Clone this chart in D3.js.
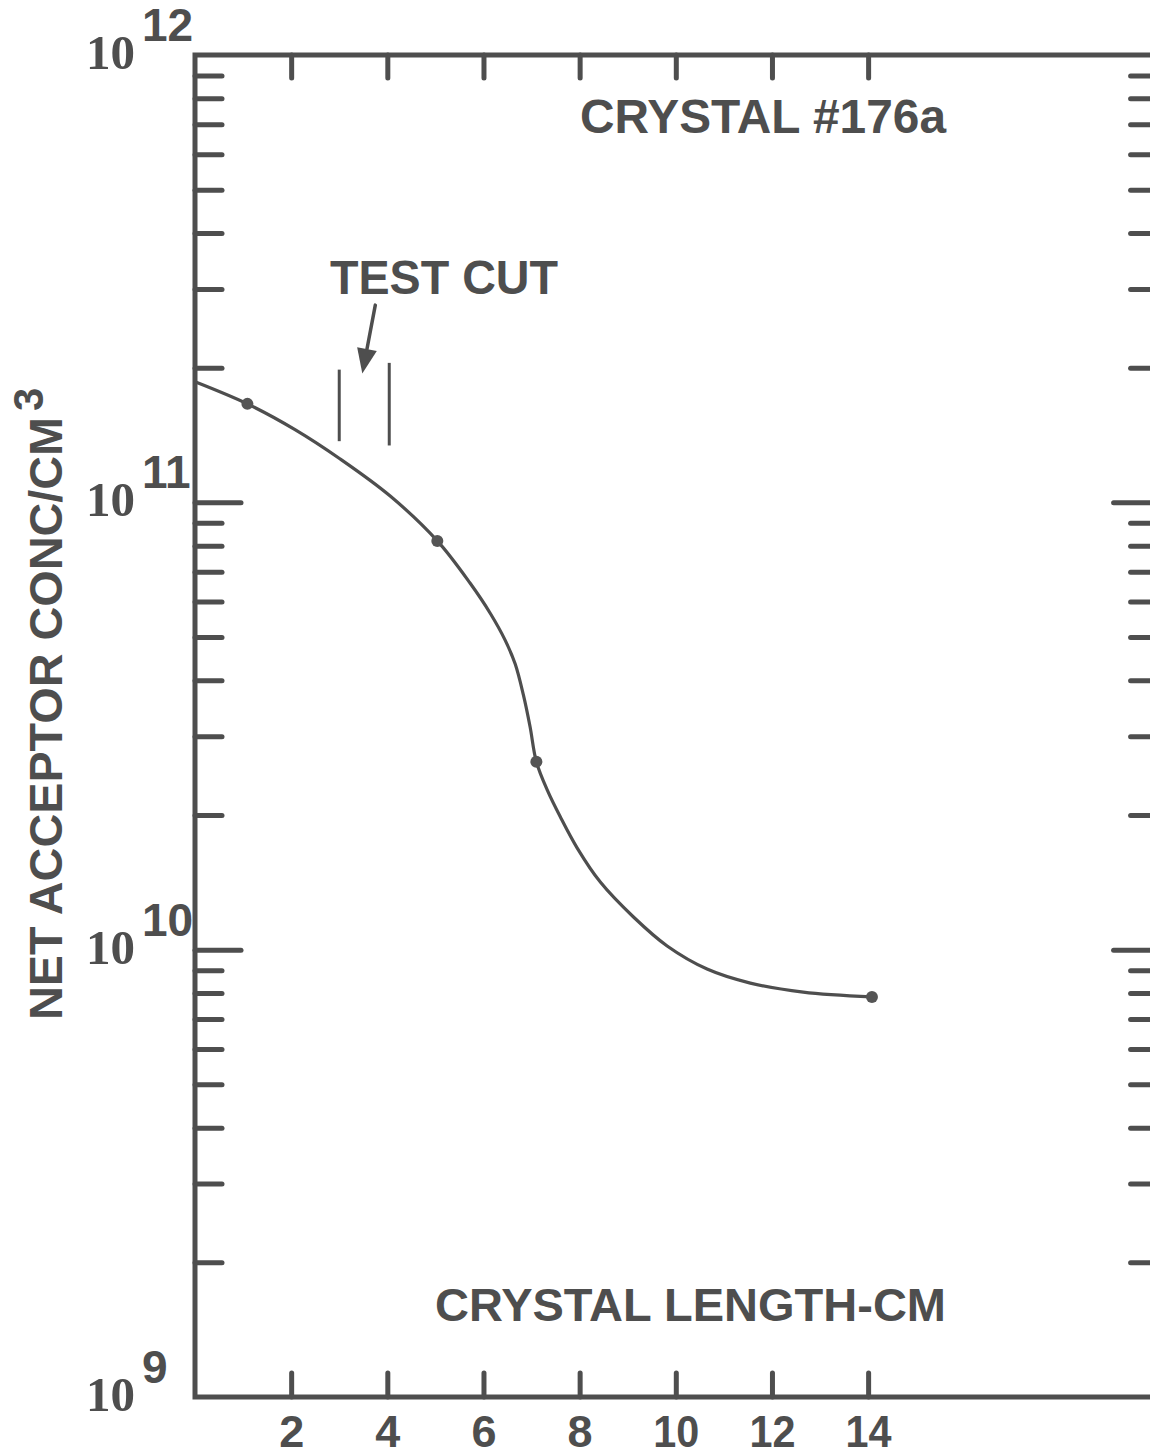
<!DOCTYPE html>
<html>
<head>
<meta charset="utf-8">
<script src="https://cdn.jsdelivr.net/npm/d3@7"></script>
<style>
  html, body { margin: 0; padding: 0; background: #ffffff; }
  svg { display: block; }
  text { fill: #4e4e4e; }
</style>
</head>
<body>
<div id="chart"></div>
<script>
// ---------------- data ----------------
const xTickValues = [2, 4, 6, 8, 10, 12, 14];
const xTickLabels = ["2", "4", "6", "8", "10", "12", "14"];
const yDecadeExponents = [9, 10, 11, 12];
const yMinorMultipliers = [2, 3, 4, 5, 6, 7, 8, 9];

// traced curve (crystal length cm, net acceptor conc / cm^3)
const curveLength = [0, 1.09, 2.08, 3.02, 4.06, 5.04, 5.72, 6.14, 6.45, 6.66, 6.83, 6.97, 7.10, 7.33, 7.60, 7.95, 8.43, 9.12, 9.82, 10.65, 11.55, 12.65, 14.08];
const curveConc   = [1.86e11, 1.66e11, 1.454e11, 1.25e11, 1.033e11, 8.2e10, 6.6e10, 5.65e10, 4.92e10, 4.35e10, 3.71e10, 3.146e10, 2.63e10, 2.27e10, 1.979e10, 1.687e10, 1.416e10, 1.183e10, 1.019e10, 9.05e9, 8.42e9, 8.04e9, 7.84e9];

// measured points
const pointLength = [1.09, 5.04, 7.10, 14.08];
const pointConc   = [1.66e11, 8.2e10, 2.63e10, 7.84e9];

// test cut markers
const testCutLength = [3.0, 4.04];
const testCutTop    = [1.98e11, 2.05e11];
const testCutBottom = [1.37e11, 1.34e11];
const arrowFrom = [3.75, 2.76e11];
const arrowTo   = [3.48, 1.94e11];

// ---------------- layout ----------------
const W = 1150, H = 1456;
const X0 = 195, X1 = 1156.6, Y0 = 55, Y1 = 1397;
const ink = "#4e4e4e";

const svg = d3.select("#chart").append("svg")
  .attr("width", W).attr("height", H);

const x = d3.scaleLinear().domain([0, 20]).range([X0, X1]);
const y = d3.scaleLog().domain([1e9, 1e12]).range([Y1, Y0]);

const minorVals = [];
yDecadeExponents.slice(0, 3).forEach(e => yMinorMultipliers.forEach(m => minorVals.push(m * Math.pow(10, e))));
const majorVals = [1e10, 1e11];

function styleTicks(g) {
  g.select(".domain").remove();
  g.selectAll(".tick line")
    .attr("stroke", ink).attr("stroke-width", 5).attr("stroke-linecap", "round");
}

// left minor & major ticks (pointing inward)
svg.append("g").attr("transform", `translate(${X0},0)`)
  .call(d3.axisLeft(y).tickValues(minorVals).tickSize(-27).tickFormat(""))
  .call(styleTicks);
svg.append("g").attr("transform", `translate(${X0},0)`)
  .call(d3.axisLeft(y).tickValues(majorVals).tickSize(-46).tickFormat(""))
  .call(styleTicks);

// right ticks
svg.append("g").attr("transform", `translate(${X1},0)`)
  .call(d3.axisRight(y).tickValues(minorVals).tickSize(-26).tickFormat(""))
  .call(styleTicks);
svg.append("g").attr("transform", `translate(${X1},0)`)
  .call(d3.axisRight(y).tickValues(majorVals).tickSize(-43).tickFormat(""))
  .call(styleTicks);

// top ticks
svg.append("g").attr("transform", `translate(0,${Y0})`)
  .call(d3.axisTop(x).tickValues(xTickValues).tickSize(-23).tickFormat(""))
  .call(styleTicks);

// bottom ticks with labels
const bottomAxis = svg.append("g").attr("transform", `translate(0,${Y1})`)
  .call(d3.axisBottom(x).tickValues(xTickValues).tickSize(-24).tickPadding(20)
        .tickFormat((d, i) => xTickLabels[i]))
  .call(styleTicks);
bottomAxis.selectAll(".tick text")
  .attr("y", 50).attr("dy", 0)
  .attr("font-family", "'Liberation Sans', Arial, sans-serif")
  .attr("font-weight", "bold")
  .attr("font-size", 45)
  .style("fill", ink);
bottomAxis.selectAll(".tick text")
  .filter((d, i) => xTickLabels[i].length > 1)
  .attr("textLength", 46).attr("lengthAdjust", "spacingAndGlyphs");

// frame
svg.append("rect")
  .attr("x", X0).attr("y", Y0)
  .attr("width", X1 - X0).attr("height", Y1 - Y0)
  .attr("fill", "none").attr("stroke", ink).attr("stroke-width", 5);

// y decade labels: 10^n
const decLab = svg.append("g");
yDecadeExponents.forEach(e => {
  const ty = y(Math.pow(10, e));
  const t = decLab.append("text")
    .attr("x", 86).attr("y", ty + 14)
    .attr("font-family", "'Liberation Serif', 'Times New Roman', serif")
    .attr("font-weight", "bold")
    .attr("font-size", 49);
  t.append("tspan").text("10");
  t.append("tspan")
    .attr("font-family", "'Liberation Sans', Arial, sans-serif")
    .attr("font-size", 46)
    .attr("dx", 7).attr("dy", -28)
    .text(String(e));
});

// curve
const line = d3.line()
  .x((d, i) => x(curveLength[i]))
  .y((d, i) => y(curveConc[i]))
  .curve(d3.curveCatmullRom.alpha(0.5));
svg.append("path")
  .datum(curveLength)
  .attr("d", line)
  .attr("fill", "none").attr("stroke", ink).attr("stroke-width", 3.2);

// points
svg.append("g").selectAll("circle")
  .data(pointLength)
  .join("circle")
  .attr("cx", (d) => x(d))
  .attr("cy", (d, i) => y(pointConc[i]))
  .attr("r", 6)
  .attr("fill", "#555");

// test cut lines
svg.append("g").selectAll("line")
  .data(testCutLength)
  .join("line")
  .attr("x1", d => x(d)).attr("x2", d => x(d))
  .attr("y1", (d, i) => y(testCutTop[i]))
  .attr("y2", (d, i) => y(testCutBottom[i]))
  .attr("stroke", ink).attr("stroke-width", 3);

// arrow
const ax1 = x(arrowFrom[0]), ay1 = y(arrowFrom[1]);
const ax2 = x(arrowTo[0]), ay2 = y(arrowTo[1]);
const ang = Math.atan2(ay2 - ay1, ax2 - ax1);
const headLen = 25, headHalf = 10;
const bx = ax2 - headLen * Math.cos(ang), by = ay2 - headLen * Math.sin(ang);
svg.append("line")
  .attr("x1", ax1).attr("y1", ay1).attr("x2", bx).attr("y2", by)
  .attr("stroke", ink).attr("stroke-width", 3.5).attr("stroke-linecap", "round");
svg.append("path")
  .attr("d", d3.line()([
    [ax2, ay2],
    [bx + headHalf * Math.sin(ang), by - headHalf * Math.cos(ang)],
    [bx - headHalf * Math.sin(ang), by + headHalf * Math.cos(ang)]
  ]) + "Z")
  .attr("fill", ink);

// text labels
const sans = "'Liberation Sans', Arial, sans-serif";
function label(txt, x0, yb, len, size) {
  return svg.append("text")
    .attr("x", x0).attr("y", yb)
    .attr("font-family", sans).attr("font-weight", "bold")
    .attr("font-size", size)
    .attr("textLength", len).attr("lengthAdjust", "spacingAndGlyphs")
    .text(txt);
}
label("CRYSTAL #176a", 580, 133, 366, 48);
label("TEST CUT", 330, 294, 228, 48);
label("CRYSTAL LENGTH-CM", 435, 1321, 511, 47);

// y axis title (rotated)
svg.append("text")
  .attr("transform", "translate(62,1020) rotate(-90)")
  .attr("font-family", sans).attr("font-weight", "bold")
  .attr("font-size", 47)
  .attr("textLength", 603).attr("lengthAdjust", "spacingAndGlyphs")
  .text("NET ACCEPTOR CONC/CM");
svg.append("text")
  .attr("transform", "translate(43,411) rotate(-90)")
  .attr("font-family", sans).attr("font-weight", "bold")
  .attr("font-size", 42)
  .text("3");
</script>
</body>
</html>
